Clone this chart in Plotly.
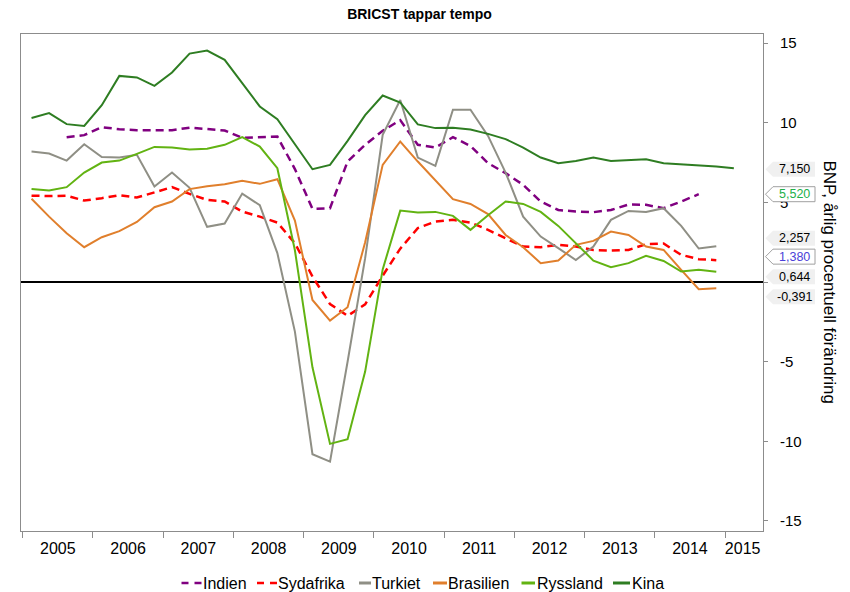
import plotly.graph_objects as go

# ---------------- data ----------------
years = ["2005", "2006", "2007", "2008", "2009", "2010",
         "2011", "2012", "2013", "2014", "2015"]
quarter_names = ["K1", "K2", "K3", "K4"]
# quarterly observations 2005K1 .. 2015K2
quarters = [y + q for y in years for q in quarter_names][:42]

indien = [None, None,
          9.10, 9.23, 9.73, 9.60, 9.54, 9.54, 9.54, 9.70, 9.60, 9.52,
          9.06, 9.12, 9.14, 7.10, 4.60, 4.64, 7.57, 8.62, 9.50, 10.17,
          8.62, 8.45, 9.10, 8.55, 7.47, 6.84, 6.11, 5.06, 4.53, 4.43,
          4.39, 4.53, 4.87, 4.85, 4.64, 5.06, 5.52]

sydafrika = [5.43, 5.40, 5.43, 5.12, 5.27, 5.46, 5.31, 5.65, 5.96, 5.54,
             5.16, 5.06, 4.43, 4.11, 3.74, 2.44, 0.35, -1.38, -2.12, -1.40,
             0.40, 2.10, 3.39, 3.80, 3.91, 3.74, 3.28, 2.75, 2.23, 2.19,
             2.34, 2.23, 2.02, 1.98, 2.02, 2.38, 2.42, 1.71, 1.44, 1.380]

turkiet = [8.20, 8.07, 7.63, 8.66, 7.85, 7.83, 7.99, 6.00, 6.88, 5.92,
           3.47, 3.68, 5.56, 4.83, 1.82, -3.11, -10.81, -11.27, -5.00, 1.50,
           9.25, 11.44, 7.82, 7.30, 10.82, 10.82, 9.18, 6.88, 4.11, 2.86,
           2.13, 1.39, 2.23, 3.91, 4.47, 4.41, 4.64, 3.53, 2.11, 2.257]

brasilien = [5.23, 4.11, 3.07, 2.19, 2.82, 3.20, 3.78, 4.70, 5.06, 5.84,
             6.02, 6.15, 6.36, 6.17, 6.46, 3.86, -1.12, -2.42, -1.58, 2.50,
             7.36, 8.83, 7.57, 6.38, 5.21, 4.91, 4.27, 2.96, 2.19, 1.19,
             1.35, 2.34, 2.59, 3.17, 2.96, 2.23, 2.02, 0.77, -0.45, -0.391]

ryssland = [5.85, 5.75, 5.96, 6.88, 7.51, 7.63, 8.05, 8.49, 8.45, 8.32,
            8.37, 8.62, 9.10, 8.51, 7.15, 2.00, -5.35, -10.16, -9.87, -5.62,
            0.80, 4.49, 4.37, 4.41, 4.16, 3.28, 4.20, 5.06, 4.91, 4.41,
            3.53, 2.44, 1.35, 0.94, 1.19, 1.65, 1.33, 0.66, 0.77, 0.644]

kina = [10.31, 10.61, 9.92, 9.81, 11.11, 12.95, 12.85, 12.32, 13.16, 14.35,
        14.54, 13.96, 12.49, 11.03, 10.23, 8.66, 7.09, 7.36, 8.87, 10.48,
        11.72, 11.28, 9.90, 9.67, 9.69, 9.58, 9.31, 8.98, 8.45, 7.82,
        7.47, 7.61, 7.82, 7.61, 7.68, 7.72, 7.47, 7.41, 7.36, 7.26, 7.150]

y_ticks = [-15, -10, -5, 0, 5, 10, 15]
y_ticktext = ["-15", "-10", "-5", "", "5", "10", "15"]

title_text = "BRICST tappar tempo"
y_title = "BNP, årlig procentuell förändring"

# ---------------- figure ----------------
W, H = 850, 592
ML, MR, MT, MB = 21, 87, 34, 61
PW, PH = W - ML - MR, H - MT - MB

def px_x(p):  # pixel -> paper x
    return (p - ML) / PW

def px_y(p):  # pixel -> paper y
    return (H - MB - p) / PH

xpos = list(range(len(quarters)))

series = [
    ("Indien", indien, "#800080", "8px,5px", 2.5),
    ("Sydafrika", sydafrika, "#ff0000", "8px,5px", 2.5),
    ("Turkiet", turkiet, "#8f8f85", "solid", 2),
    ("Brasilien", brasilien, "#e07f2c", "solid", 2),
    ("Ryssland", ryssland, "#62b312", "solid", 2),
    ("Kina", kina, "#2e7d22", "solid", 2),
]

fig = go.Figure()
for name, vals, col, dash, w in series:
    fig.add_trace(go.Scatter(
        x=xpos[:len(vals)], y=vals, name=name, mode="lines",
        line=dict(color=col, width=w, dash=dash),
        connectgaps=False, showlegend=False,
    ))

# year label positions = centre of each year's quarters; tick marks at year boundaries
year_centers = []
year_bounds = []
for y in years:
    idx = [i for i, q in enumerate(quarters) if q.startswith(y)]
    year_centers.append(sum(idx) / len(idx))
    year_bounds.append(idx[0] - 0.5)

gray = "#8c8c8c"
fig.update_layout(
    width=W, height=H,
    margin=dict(l=ML, r=MR, t=MT, b=MB, autoexpand=False),
    paper_bgcolor="white", plot_bgcolor="white",
    font=dict(family="Liberation Sans, Arial, sans-serif", color="black"),
    title=dict(text="<b>" + title_text + "</b>", x=0.4935, xref="container",
               xanchor="center", y=1 - 14 / H, yref="container",
               yanchor="middle", font=dict(size=14, color="black")),
    showlegend=False,
    xaxis=dict(range=[-0.6, 41.66], tickmode="array", tickvals=year_centers,
               ticktext=years, ticks="", showline=True, mirror=True,
               linecolor=gray, linewidth=1, showgrid=False, zeroline=False,
               tickfont=dict(size=16), ticklabelstandoff=3, automargin=False,
               minor=dict(tickmode="array", tickvals=year_bounds,
                          ticks="outside", ticklen=6, tickcolor=gray,
                          tickwidth=1, showgrid=False)),
    yaxis=dict(side="right", range=[-15.63, 15.58], tickmode="array",
               tickvals=y_ticks, ticktext=y_ticktext, ticks="outside",
               ticklen=4, tickcolor=gray, showline=True, mirror=True,
               linecolor=gray, linewidth=1, showgrid=False,
               zeroline=True, zerolinecolor="black", zerolinewidth=2,
               tickfont=dict(size=15), ticklabelstandoff=9, automargin=False),
)

# end-value callouts on the right
def last_val(v):
    return [a for a in v if a is not None][-1]

label_specs = [
    # series, y pixel shift, text colour, fill, border
    (kina, -1, "black", "#f0f0f0", None),
    (indien, 0, "#22b04a", "white", "#a0a0a0"),
    (turkiet, 8, "black", "#f0f0f0", None),
    (sydafrika, 3.5, "#4b3fd8", "white", "#a0a0a0"),
    (ryssland, -5, "black", "#f0f0f0", None),
    (brasilien, -8.5, "black", "#f0f0f0", None),
]
h = 7.5
for vals, s, tcol, fill, border in label_specs:
    v = last_val(vals)
    path = (f"M 2.5,{s} L 10,{s + h} L 52,{s + h} L 52,{s - h} "
            f"L 10,{s - h} Z")
    fig.add_shape(type="path", xref="paper", yref="y",
                  xsizemode="pixel", ysizemode="pixel",
                  xanchor=1, yanchor=v, path=path,
                  fillcolor=fill,
                  line=dict(color=border if border else fill,
                            width=1 if border else 0),
                  layer="above")
    fig.add_annotation(x=1, xref="paper", y=v, yref="y",
                       xshift=31, yshift=s,
                       text=f"{v:.3f}".replace(".", ","),
                       showarrow=False, xanchor="center", yanchor="middle",
                       font=dict(size=12.5, color=tcol))

fig.add_annotation(x=px_x(829), xref="paper", y=0.5, yref="paper",
                   text=y_title, textangle=90, showarrow=False,
                   xanchor="center", yanchor="middle",
                   font=dict(size=17, color="black"))

# legend row (symbol start, symbol end, text start in pixels)
legend_slots = [(181.5, 201.5, 203), (257, 277, 277.5), (359, 371, 371.5),
                (433, 447, 448), (521.5, 535, 536.5), (613, 630, 631.5)]
legend_y = 583
for (name, vals, col, dash, w), (s0, s1, t0) in zip(series, legend_slots):
    fig.add_shape(type="line", xref="paper", yref="paper",
                  x0=px_x(s0), x1=px_x(s1), y0=px_y(legend_y), y1=px_y(legend_y),
                  line=dict(color=col, width=2.5 if dash != "solid" else 3,
                            dash="7px,6px" if dash != "solid" else "solid"))
    fig.add_annotation(x=px_x(t0 - 1), xref="paper", y=px_y(legend_y), yref="paper",
                       text=name, showarrow=False, xanchor="left",
                       yanchor="middle", borderpad=0,
                       font=dict(size=16, color="black"))

fig.write_html("out.html",
               config={"displayModeBar": False},
               post_script="document.body.style.margin='0';"
                           "document.body.style.overflow='hidden';")
